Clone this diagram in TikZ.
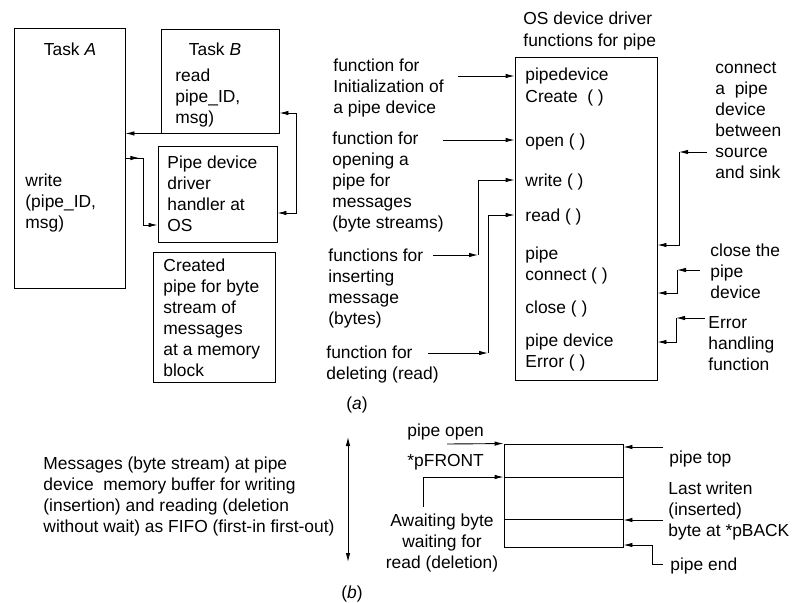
\documentclass[tikz,border=0pt]{standalone}
\usepackage{fontspec}
\setmainfont{Liberation Sans}
\usetikzlibrary{arrows.meta}

\begin{document}
\begin{tikzpicture}[x=1pt,y=-1pt,>={Latex[length=9pt,width=4.5pt]},line width=0.9pt,
  box/.style={draw,inner sep=0pt},
  txt/.style={inner sep=0pt,align=left,anchor=base west},
  font=\fontsize{17.4}{21}\selectfont]
  \useasboundingbox (0,0) rectangle (794,602);

  % (a) tasks and the pipe  (multi-line texts sit on their last baseline)
  \node[box,minimum width=111pt,minimum height=260pt] (ta) at (69.5,158) {};
  \node[box,minimum width=118pt,minimum height=104pt] (tb) at (220,81) {};
  \node[box,minimum width=119pt,minimum height=96pt] (drv) at (217.5,194) {};
  \node[box,minimum width=122pt,minimum height=130pt] (mem) at (214,317) {};
  \node[inner sep=0pt,anchor=base] (taname) at (70,56) {Task \textit{A}};
  \node[inner sep=0pt,anchor=base] (tbname) at (215,56) {Task \textit{B}};
  \node[txt] (wr) at (25,228) {write\\(pipe\_ID,\\msg)};
  \node[txt] (rd) at (175,123) {read\\pipe\_ID,\\msg)};
  \node[txt] (hdl) at (167,231) {Pipe device\\driver\\handler at\\OS};
  \node[txt] (blk) at (163,376) {Created\\pipe for byte\\stream of\\messages\\at a memory\\block};

  \coordinate (k1) at (143,158);
  \draw[->] (tb.south west) -- (ta.east |- tb.south west);
  \draw[->] (ta.east |- k1) -- ++(14,0);
  \draw[->] (ta.east |- k1) -- (k1) |- (drv.west |- 0,225);
  \draw[<->] (tb.east |- 0,113) -- ++(17,0) |- (drv.east |- 0,213);

  % (a) driver functions
  \node[txt] (os) at (523,46) {OS device driver\\functions for pipe};
  \node[box,minimum width=142pt,minimum height=323pt] (fn) at (586,218.5) {};
  \node[txt] (fcre) at (525,102) {pipedevice\\Create\ \ ( )};
  \node[txt] (fopn) at (525,146) {open ( )};
  \node[txt] (fwr) at (525,186) {write ( )};
  \node[txt] (frd) at (525,221) {read ( )};
  \node[txt] (fcon) at (525,280) {pipe\\connect ( )};
  \node[txt] (fcls) at (525,313) {close ( )};
  \node[txt] (ferr) at (525,367) {pipe device\\Error ( )};

  \node[txt] (init) at (333,113) {function for\\Initialization of\\a pipe device};
  \node[txt] (opn) at (332,228) {function for\\opening a\\pipe for\\messages\\(byte streams)};
  \node[txt] (ins) at (328,324) {functions for\\inserting\\message\\(bytes)};
  \node[txt] (del) at (326,379) {function for\\deleting (read)};
  \node[txt] (con) at (715,178) {connect\\a\ \ pipe\\device\\between\\source\\and sink};
  \node[txt] (cls) at (710,298) {close the\\pipe\\device};
  \node[txt] (err) at (708,370) {Error\\handling\\function};
  \node[inner sep=0pt,anchor=base] (capa) at (357,409) {(\textit{a})};

  \coordinate (iA) at (458,76);
  \coordinate (oA) at (443,140);
  \coordinate (wA) at (433,255);
  \coordinate (wB) at (478,255);
  \coordinate (rA) at (428,353);
  \coordinate (rB) at (488,353);
  \coordinate (cA) at (707,152);
  \coordinate (cB) at (679,152);
  \coordinate (sA) at (700,270);
  \coordinate (sB) at (677,270);
  \coordinate (eA) at (705,318);
  \coordinate (eB) at (676,318);
  \draw[->] (iA) -- (fn.west |- iA);
  \draw[->] (oA) -- (fn.west |- oA);
  \draw[->] (wA) -- (wB);
  \draw[->] (wB) |- (fn.west |- 0,180);
  \draw[->] (rA) -- (rB);
  \draw[->] (rB) |- (fn.west |- 0,215);
  \draw[->] (cA) -- (cB);
  \draw[->] (cB) |- (fn.east |- 0,245);
  \draw[->] (sA) -- (sB);
  \draw[->] (sB) |- (fn.east |- 0,293);
  \draw[->] (eA) -- (eB);
  \draw[->] (eB) |- (fn.east |- 0,342);

  % (b) pipe buffer
  \node[txt] (fifo) at (43,532) {Messages (byte stream) at pipe\\device\ \ memory buffer for writing\\(insertion) and reading (deletion\\without wait) as FIFO (first-in first-out)};
  \coordinate (up) at (348,437);
  \coordinate (dn) at (348,562);
  \draw[<->] (up) -- (dn);
  \node[inner sep=0pt,anchor=base] (capb) at (352,598) {(\textit{b})};

  \node[box,minimum width=119pt,minimum height=103pt] (buf) at (563.5,495.5) {};
  \draw (buf.west |- 0,477) -- (buf.east |- 0,477);
  \draw (buf.west |- 0,519) -- (buf.east |- 0,519);
  \node[txt] (popen) at (407,436) {pipe open};
  \node[txt] (pfront) at (407,466) {*pFRONT};
  \node[inner sep=0pt,align=center,anchor=base] (await) at (442,568) {Awaiting byte\\waiting for\\read (deletion)};
  \node[txt] (ptop) at (669,463) {pipe top};
  \node[txt] (last) at (668,536) {Last writen\\(inserted)\\byte at *pBACK};
  \node[txt] (pend) at (670,570) {pipe end};

  \coordinate (pA) at (447,444);
  \coordinate (fA) at (423,507);
  \coordinate (tA) at (663,447);
  \coordinate (bA) at (663,520);
  \coordinate (nA) at (663,564);
  \draw[->] (pA) -- (buf.north west);
  \draw[->] (fA) |- (buf.west |- 0,477);
  \draw[->] (tA) -- (buf.east |- tA);
  \draw[->] (bA) -- (buf.east |- bA);
  \draw[->] (nA) -- ++(-11,0) -- ++(0,-19) -- (buf.east |- 0,545);
\end{tikzpicture}
\end{document}
